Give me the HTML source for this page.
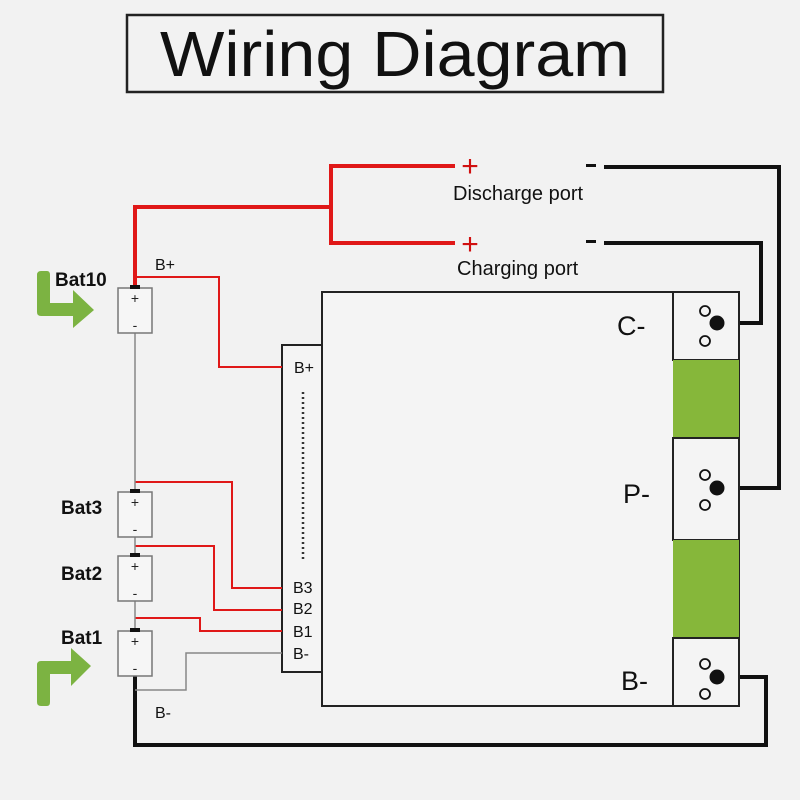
<!DOCTYPE html>
<html><head><style>
html,body{margin:0;padding:0;background:#f2f2f2;}
svg{display:block;font-family:"Liberation Sans",sans-serif;}
</style></head><body>
<svg width="800" height="800" viewBox="0 0 800 800" xmlns="http://www.w3.org/2000/svg">
<rect width="800" height="800" fill="#f2f2f2"/>
<!-- title -->
<rect x="127" y="15" width="536" height="77" fill="none" stroke="#222" stroke-width="2.5"/>
<text x="395" y="76" font-size="64" text-anchor="middle" fill="#111" textLength="470" lengthAdjust="spacingAndGlyphs">Wiring  Diagram</text>

<!-- red power wires -->
<polyline points="135,290 135,207 331,207" fill="none" stroke="#e01818" stroke-width="4"/>
<polyline points="455,166 331,166 331,243 455,243" fill="none" stroke="#e01818" stroke-width="4"/>
<text x="470" y="176" font-size="30" fill="#d01010" text-anchor="middle">+</text>
<text x="470" y="254" font-size="30" fill="#d01010" text-anchor="middle">+</text>
<text x="453" y="200" font-size="20" fill="#111">Discharge port</text>
<text x="457" y="275" font-size="20" fill="#111">Charging port</text>
<rect x="586" y="164" width="10" height="3" fill="#111"/>
<rect x="586" y="240" width="10" height="3" fill="#111"/>

<!-- black wires -->
<polyline points="604,167 779,167 779,488 717,488" fill="none" stroke="#111" stroke-width="4"/>
<polyline points="604,243 761,243 761,323 717,323" fill="none" stroke="#111" stroke-width="4"/>
<polyline points="717,677 766,677 766,745 135,745 135,676" fill="none" stroke="#111" stroke-width="4"/>

<!-- main board -->
<rect x="322" y="292" width="417" height="414" fill="#f4f4f4" stroke="#222" stroke-width="2"/>
<rect x="673" y="292" width="66" height="68" fill="#f4f4f4" stroke="#222" stroke-width="2"/>
<rect x="673" y="360" width="66" height="78" fill="#86b73a"/>
<rect x="673" y="438" width="66" height="102" fill="#f4f4f4" stroke="#222" stroke-width="2"/>
<rect x="673" y="540" width="66" height="98" fill="#86b73a"/>
<rect x="673" y="638" width="66" height="68" fill="#f4f4f4" stroke="#222" stroke-width="2"/>
<g fill="none" stroke="#111" stroke-width="1.8">
<circle cx="705" cy="311" r="5"/><circle cx="705" cy="341" r="5"/>
<circle cx="705" cy="475" r="5"/><circle cx="705" cy="505" r="5"/>
<circle cx="705" cy="664" r="5"/><circle cx="705" cy="694" r="5"/>
</g>
<circle cx="717" cy="323" r="7.5" fill="#111"/>
<circle cx="717" cy="488" r="7.5" fill="#111"/>
<circle cx="717" cy="677" r="7.5" fill="#111"/>
<text x="617" y="335" font-size="27" fill="#111">C-</text>
<text x="623" y="503" font-size="27" fill="#111">P-</text>
<text x="621" y="690" font-size="27" fill="#111">B-</text>

<!-- connector strip -->
<rect x="282" y="345" width="40" height="327" fill="#f4f4f4" stroke="#222" stroke-width="2"/>
<line x1="303" y1="392" x2="303" y2="562" stroke="#333" stroke-width="2.5" stroke-dasharray="2,3"/>
<g font-size="16" fill="#111">
<text x="294" y="373">B+</text>
<text x="293" y="593">B3</text>
<text x="293" y="614">B2</text>
<text x="293" y="637">B1</text>
<text x="293" y="659">B-</text>
</g>

<!-- balance wires -->
<g fill="none" stroke="#e01818" stroke-width="2">
<polyline points="135,277 219,277 219,367 282,367"/>
<polyline points="135,482 232,482 232,588 282,588"/>
<polyline points="135,546 214,546 214,610 282,610"/>
<polyline points="135,618 200,618 200,631 282,631"/>
</g>
<polyline points="135,690 186,690 186,653 282,653" fill="none" stroke="#888" stroke-width="1.5"/>
<!-- series link -->
<line x1="135" y1="333" x2="135" y2="492" stroke="#888" stroke-width="1.5"/>
<line x1="135" y1="537" x2="135" y2="556" stroke="#888" stroke-width="1.5"/>
<line x1="135" y1="601" x2="135" y2="631" stroke="#888" stroke-width="1.5"/>

<!-- batteries -->
<g stroke="#777" stroke-width="1.5" fill="#f6f6f6">
<rect x="118" y="288" width="34" height="45"/>
<rect x="118" y="492" width="34" height="45"/>
<rect x="118" y="556" width="34" height="45"/>
<rect x="118" y="631" width="34" height="45"/>
</g>
<g fill="#111">
<rect x="130" y="285" width="10" height="4"/>
<rect x="130" y="489" width="10" height="4"/>
<rect x="130" y="553" width="10" height="4"/>
<rect x="130" y="628" width="10" height="4"/>
</g>
<g font-size="14" fill="#222" text-anchor="middle">
<text x="135" y="303">+</text><text x="135" y="330">-</text>
<text x="135" y="507">+</text><text x="135" y="534">-</text>
<text x="135" y="571">+</text><text x="135" y="598">-</text>
<text x="135" y="646">+</text><text x="135" y="673">-</text>
</g>
<g font-size="19" font-weight="bold" fill="#111">
<text x="55" y="286">Bat10</text>
<text x="61" y="514">Bat3</text>
<text x="61" y="580">Bat2</text>
<text x="61" y="644">Bat1</text>
</g>
<text x="155" y="270" font-size="16" fill="#111">B+</text>
<text x="155" y="718" font-size="16" fill="#111">B-</text>

<!-- green arrows -->
<path d="M37,275 Q37,271 41,271 L47,271 Q50,271 50,275 L50,303 L73,303 L73,290 L94,310 L73,328 L73,316 L41,316 Q37,316 37,312 Z" fill="#7cb342"/>
<path d="M37,702 Q37,706 41,706 L47,706 Q50,706 50,702 L50,674 L71,674 L71,686 L91,666 L71,648 L71,661 L41,661 Q37,661 37,665 Z" fill="#7cb342"/>
</svg>
</body></html>
